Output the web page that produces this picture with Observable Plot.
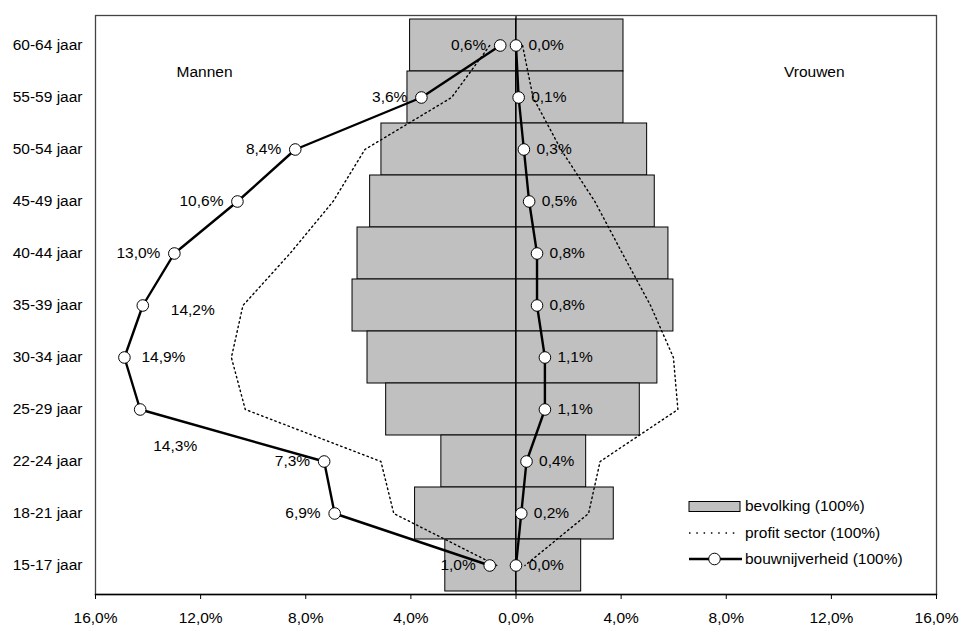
<!DOCTYPE html>
<html>
<head>
<meta charset="utf-8">
<script src="https://cdn.jsdelivr.net/npm/d3@7"></script>
<script src="https://cdn.jsdelivr.net/npm/@observablehq/plot@0.6"></script>
<style>
  html, body { margin: 0; padding: 0; background: #fff; }
  #chart { width: 959px; height: 626px; }
</style>
</head>
<body>
<div id="chart"></div>
<script>
const categories = ["60-64 jaar", "55-59 jaar", "50-54 jaar", "45-49 jaar", "40-44 jaar", "35-39 jaar", "30-34 jaar", "25-29 jaar", "22-24 jaar", "18-21 jaar", "15-17 jaar"];
const bevolkingMannen = [4.03, 4.13, 5.12, 5.55, 6.03, 6.22, 5.65, 4.94, 2.84, 3.84, 2.69];
const bevolkingVrouwen = [4.09, 4.09, 4.99, 5.28, 5.80, 5.99, 5.38, 4.71, 2.67, 3.72, 2.48];
const profitMannen = [1.0, 2.45, 5.75, 6.96, 8.6, 10.39, 10.83, 10.30, 5.14, 4.65, 0.73];
const profitVrouwen = [0.25, 0.65, 1.71, 3.0, 4.05, 5.12, 5.99, 6.16, 3.2, 2.76, 0.34];
const bouwMannen = [0.6, 3.6, 8.4, 10.6, 13.0, 14.2, 14.9, 14.3, 7.3, 6.9, 1.0];
const bouwVrouwen = [0.0, 0.1, 0.3, 0.5, 0.8, 0.8, 1.1, 1.1, 0.4, 0.2, 0.0];
const xTicks = [-16, -12, -8, -4, 0, 4, 8, 12, 16];
const legendLabels = ["bevolking (100%)", "profit sector (100%)", "bouwnijverheid (100%)"];
const sideLabels = ["Mannen", "Vrouwen"];

const pct = v => Math.abs(v).toFixed(1).replace(".", ",") + "%";

const rows = categories.map((c, i) => ({
  cat: c, i,
  bevM: bevolkingMannen[i], bevV: bevolkingVrouwen[i],
  profM: profitMannen[i], profV: profitVrouwen[i],
  bouwM: bouwMannen[i], bouwV: bouwVrouwen[i]
}));

const profitRows = [
  ...rows.map(r => ({cat: r.cat, x: -r.profM, side: "M"})),
  ...rows.map(r => ({cat: r.cat, x: r.profV, side: "V"}))
];
const bouwRows = [
  ...rows.map(r => ({cat: r.cat, x: -r.bouwM, side: "M", i: r.i, v: r.bouwM})),
  ...rows.map(r => ({cat: r.cat, x: r.bouwV, side: "V", i: r.i, v: r.bouwV}))
];
const menRows = bouwRows.filter(d => d.side === "M");
const womenRows = bouwRows.filter(d => d.side === "V");
const menStd = menRows.filter(d => ![5, 6, 7].includes(d.i));

const FONT = "'Liberation Sans', Arial, Helvetica, sans-serif";
const FS = 15.5;

const plot = Plot.plot({
  width: 959,
  height: 626,
  marginLeft: 95,
  marginRight: 23,
  marginTop: 15,
  marginBottom: 32,
  style: {fontFamily: FONT, fontSize: FS + "px", background: "#fff", color: "#000", overflow: "visible"},
  x: {domain: [-16, 16]},
  y: {domain: categories, padding: 0},
  marks: [
    Plot.barX(rows, {y: "cat", x1: d => -d.bevM, x2: 0, fill: "#c0c0c0", stroke: "#000", strokeWidth: 1}),
    Plot.barX(rows, {y: "cat", x1: 0, x2: "bevV", fill: "#c0c0c0", stroke: "#000", strokeWidth: 1}),
    Plot.ruleX([0], {stroke: "#000", strokeWidth: 1.3}),
    Plot.frame({stroke: "#444", strokeWidth: 1.3}),
    Plot.frame({anchor: "bottom", stroke: "#000", strokeWidth: 1.3}),
    Plot.axisX({ticks: xTicks, tickSize: 5, tickPadding: 12, tickFormat: pct, fontSize: FS, label: null, stroke: "#000"}),
    Plot.axisY({tickSize: 0, tickPadding: 13, fontSize: FS, label: null}),
    Plot.line(profitRows, {x: "x", y: "cat", z: "side", stroke: "#000", strokeWidth: 1.4, strokeDasharray: "1.5,3.2"}),
    Plot.line(bouwRows, {x: "x", y: "cat", z: "side", stroke: "#000", strokeWidth: 2.4}),
    Plot.dot(bouwRows, {x: "x", y: "cat", r: 5.8, fill: "#fff", stroke: "#000", strokeWidth: 1}),
    Plot.text(menStd, {x: "x", y: "cat", text: d => pct(d.v), textAnchor: "end", dx: -14, fontSize: FS, fill: "#000"}),
    Plot.text(menRows.filter(d => d.i === 5), {x: "x", y: "cat", text: d => pct(d.v), textAnchor: "start", dx: 28, dy: 5, fontSize: FS, fill: "#000"}),
    Plot.text(menRows.filter(d => d.i === 6), {x: "x", y: "cat", text: d => pct(d.v), textAnchor: "start", dx: 17, fontSize: FS, fill: "#000"}),
    Plot.text(menRows.filter(d => d.i === 7), {x: "x", y: "cat", text: d => pct(d.v), textAnchor: "middle", dx: 35, dy: 37, fontSize: FS, fill: "#000"}),
    Plot.text(womenRows, {x: "x", y: "cat", text: d => pct(d.v), textAnchor: "start", dx: 12.5, fontSize: FS, fill: "#000"}),
    Plot.text([-11.85], {x: d => d, y: () => categories[0], dy: 27, text: () => sideLabels[0], fontSize: FS, fill: "#000"}),
    Plot.text([11.35], {x: d => d, y: () => categories[0], dy: 27, text: () => sideLabels[1], fontSize: FS, fill: "#000"})
  ]
});

document.getElementById("chart").appendChild(plot);

// Legend inside the plot frame (lower right)
const xs = plot.scale("x");
const right = xs.range[1];
const bottom = 626 - 32;
const svg = d3.select(plot);
const lg = svg.append("g")
  .attr("font-family", FONT).attr("font-size", FS).attr("fill", "#000").attr("text-anchor", "start");
const sx0 = right - 247, sx1 = right - 196, tx = right - 191;
const y1 = bottom - 87.5, y2 = bottom - 61, y3 = bottom - 35;
lg.append("rect").attr("x", sx0).attr("y", y1 - 5).attr("width", sx1 - sx0).attr("height", 10)
  .attr("fill", "#c0c0c0").attr("stroke", "#000").attr("stroke-width", 1);
lg.append("line").attr("x1", sx0).attr("x2", sx1 - 5).attr("y1", y2).attr("y2", y2)
  .attr("stroke", "#000").attr("stroke-width", 1.4).attr("stroke-dasharray", "1.5,5.8");
lg.append("line").attr("x1", sx0).attr("x2", sx1 + 2).attr("y1", y3).attr("y2", y3)
  .attr("stroke", "#000").attr("stroke-width", 2.4);
lg.append("circle").attr("cx", (sx0 + sx1) / 2).attr("cy", y3).attr("r", 5.8)
  .attr("fill", "#fff").attr("stroke", "#000").attr("stroke-width", 1);
[y1, y2, y3].forEach((yy, k) => {
  lg.append("text").attr("x", tx).attr("y", yy).attr("dy", "0.32em")
    .attr("text-anchor", "start").text(legendLabels[k]);
});
</script>
</body>
</html>
